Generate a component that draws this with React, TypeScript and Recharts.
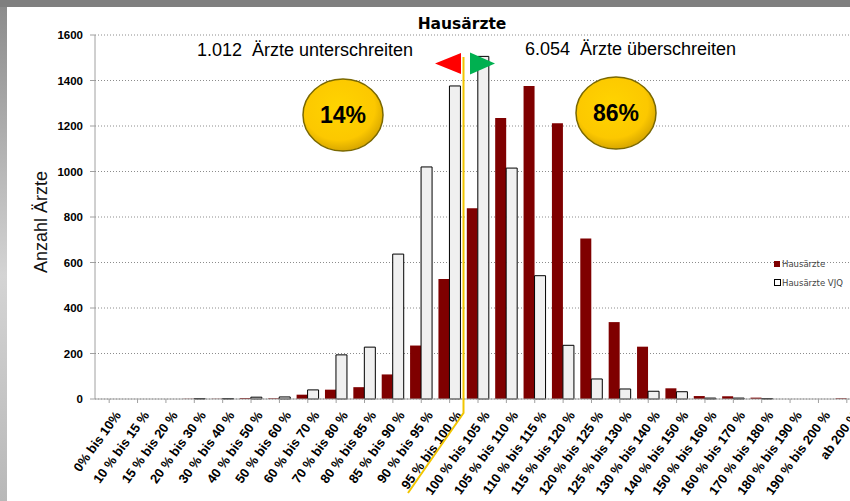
import React from "react";
import { BarChart, Bar, XAxis, YAxis, CartesianGrid } from "recharts";

// ─── Data ─────────────────────────────────────────────────────────────────────

const categories = [
  "0% bis 10%",
  "10 % bis 15 %",
  "15 % bis 20 %",
  "20 % bis 30 %",
  "30 % bis 40 %",
  "40 % bis 50 %",
  "50 % bis 60 %",
  "60 % bis 70 %",
  "70 % bis 80 %",
  "80 % bis 85 %",
  "85 % bis 90 %",
  "90 % bis 95 %",
  "95 % bis 100 %",
  "100 % bis 105 %",
  "105 % bis 110 %",
  "110 % bis 115 %",
  "115 % bis 120 %",
  "120 % bis 125 %",
  "125 % bis 130 %",
  "130 % bis 140 %",
  "140 % bis 150 %",
  "150 % bis 160 %",
  "160 % bis 170 %",
  "170 % bis 180 %",
  "180 % bis 190 %",
  "190 % bis 200 %",
  "ab 200 %",
];

const hausaerzte = [
  0, 0, 0, 1, 1, 4, 3, 19, 41, 52, 108, 235, 527, 839, 1235, 1376, 1212, 706,
  338, 230, 47, 13, 12, 6, 0, 0, 3,
];

const hausaerzteVJQ = [
  0, 0, 0, 2, 2, 8, 9, 40, 194, 228, 637, 1020, 1376, 1506, 1015, 542, 236, 88,
  44, 34, 32, 4, 4, 2, 0, 0, 0,
];

const yTicks = [0, 200, 400, 600, 800, 1000, 1200, 1400, 1600];

const data = categories.map((name, i) => ({
  name,
  h: hausaerzte[i],
  vjq: hausaerzteVJQ[i],
}));

// ─── Styles ───────────────────────────────────────────────────────────────────

const ARIAL = "'Liberation Sans', Arial, sans-serif";
const COLORS = {
  red: "#7f0000",
  white: "#f0f0f0",
  axis: "#a0a0a0",
  grid: "#8c8c8c",
  gold: "#f2c500",
};

function XTick({ x, y, payload }: any) {
  return (
    <g transform={`translate(${x + 5},${y + 5})`}>
      <text
        transform="rotate(-54)"
        textAnchor="end"
        dy="0.7em"
        fontFamily={ARIAL}
        fontWeight="bold"
        fontSize={13}
        fill="#000"
      >
        {payload.value}
      </text>
    </g>
  );
}

function Badge({ cx, cy, label }: { cx: number; cy: number; label: string }) {
  return (
    <g>
      <ellipse cx={cx} cy={cy} rx={40} ry={36} fill="url(#gold)" stroke="#7a6800" strokeWidth={1.5} />
      <text
        x={cx}
        y={cy + 8}
        textAnchor="middle"
        fontFamily={ARIAL}
        fontWeight="bold"
        fontSize={23}
        fill="#000"
      >
        {label}
      </text>
    </g>
  );
}

export default function App() {
  return (
    <div
      style={{
        position: "absolute",
        left: 0,
        top: 0,
        width: 850,
        height: 501,
        overflow: "hidden",
        background: "linear-gradient(180deg, #8a8a8a 0%, #d4d4d4 55%, #b8b8b8 100%)",
      }}
    >
      <div style={{ position: "absolute", left: 0, top: 0, width: 850, height: 7, background: "#7f7f7f" }} />
      <div style={{ position: "absolute", left: 7, top: 7, width: 843, height: 494, background: "#fff" }} />

      <div style={{ position: "absolute", left: 0, top: 0 }}>
        <BarChart
          width={861}
          height={501}
          data={data}
          margin={{ top: 35, right: 0, bottom: 0, left: 35 }}
          barCategoryGap={3}
          barGap={0}
        >
          <CartesianGrid vertical={false} stroke={COLORS.grid} strokeDasharray="1 2" />
          <XAxis
            dataKey="name"
            interval={0}
            height={102}
            tick={<XTick />}
            tickLine={{ stroke: COLORS.axis }}
            tickSize={4}
            axisLine={{ stroke: COLORS.axis }}
          />
          <YAxis
            width={60}
            domain={[0, 1600]}
            ticks={yTicks}
            interval={0}
            tickSize={5}
            tickMargin={7}
            tickLine={{ stroke: COLORS.axis }}
            axisLine={{ stroke: COLORS.axis }}
            tick={{ fontFamily: ARIAL, fontWeight: "bold", fontSize: 11.5, fill: "#000" }}
          />
          <Bar dataKey="h" name="Hausärzte" fill={COLORS.red} isAnimationActive={false} />
          <Bar
            dataKey="vjq"
            name="Hausärzte VJQ"
            fill={COLORS.white}
            stroke="#000"
            strokeWidth={1}
            isAnimationActive={false}
          />
        </BarChart>
      </div>

      {/* annotations */}
      <svg width={850} height={501} style={{ position: "absolute", left: 0, top: 0, pointerEvents: "none" }}>
        <defs>
          <radialGradient id="gold" cx="45%" cy="40%" r="60%">
            <stop offset="0%" stopColor="#ffd400" />
            <stop offset="75%" stopColor="#fcc800" />
            <stop offset="100%" stopColor="#d9a800" />
          </radialGradient>
        </defs>

        <text x={462} y={29} textAnchor="middle" fontFamily="'DejaVu Sans', sans-serif" fontWeight="bold" fontSize={15.5} fill="#000">
          Hausärzte
        </text>

        <text x={197} y={56} fontFamily={ARIAL} fontSize={18} fill="#000" style={{ whiteSpace: "pre" }}>
          {"1.012  Ärzte unterschreiten"}
        </text>
        <text x={525} y={55} fontFamily={ARIAL} fontSize={18} fill="#000" style={{ whiteSpace: "pre" }}>
          {"6.054  Ärzte überschreiten"}
        </text>

        <text
          transform="translate(47,222) rotate(-90)"
          textAnchor="middle"
          fontFamily={ARIAL}
          fontSize={18}
          fill="#111"
        >
          Anzahl Ärzte
        </text>

        <path d="M463.5 57 L463.5 413 L408 493" fill="none" stroke={COLORS.gold} strokeWidth={2} />
        <polygon points="435,63.5 461,53 461,74" fill="#ff0000" />
        <polygon points="470,52.5 470,74.5 495,63.5" fill="#00b050" />

        <Badge cx={343} cy={115} label="14%" />
        <Badge cx={616} cy={113} label="86%" />

        <rect x={774} y={261} width={6} height={6} fill={COLORS.red} />
        <text x={782} y={267} fontFamily="'DejaVu Sans', sans-serif" fontSize={8.5} fill="#444">
          Hausärzte
        </text>
        <rect x={774.5} y={279.5} width={6} height={6} fill="#fff" stroke="#000" strokeWidth={1} />
        <text x={782} y={286} fontFamily="'DejaVu Sans', sans-serif" fontSize={8.5} fill="#444">
          Hausärzte VJQ
        </text>
      </svg>
    </div>
  );
}
